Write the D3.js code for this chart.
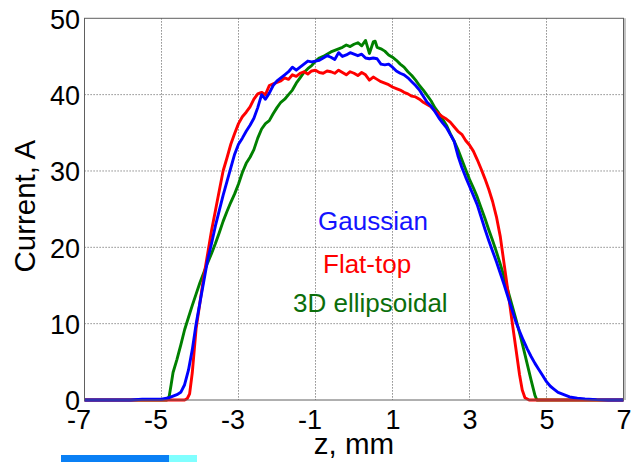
<!DOCTYPE html>
<html>
<head>
<meta charset="utf-8">
<script src="https://cdn.jsdelivr.net/npm/d3@7/dist/d3.min.js"></script>
<style>
html, body { margin: 0; padding: 0; background: #fff; }
svg { display: block; }
text { font-family: "Liberation Sans", Arial, Helvetica, sans-serif; }
</style>
</head>
<body>
<svg id="chart" width="634" height="462"></svg>
<script>
// ---- data ----
const xTicks = [-7, -5, -3, -1, 1, 3, 5, 7];
const yTicks = [0, 10, 20, 30, 40, 50];
const xLabel = "z, mm";
const yLabel = "Current, A";
const seriesNames = ["Gaussian", "Flat-top", "3D ellipsoidal"];

const gaussZ = [-7, -5.8, -5.5, -5.0, -4.8, -4.7, -4.6, -4.5, -4.4, -4.3, -4.2, -4.1, -4.0, -3.9, -3.8, -3.7, -3.6, -3.5, -3.4, -3.3, -3.2, -3.1, -3.0, -2.9, -2.8, -2.7, -2.6, -2.5, -2.4, -2.3, -2.2, -2.1, -2.0, -1.9, -1.8, -1.7, -1.6, -1.5, -1.4, -1.3, -1.2, -1.1, -1.0, -0.9, -0.8, -0.7, -0.6, -0.5, -0.4, -0.3, -0.2, -0.1, 0, 0.1, 0.2, 0.3, 0.4, 0.5, 0.6, 0.7, 0.8, 0.9, 1.0, 1.1, 1.2, 1.3, 1.4, 1.5, 1.6, 1.7, 1.8, 1.9, 2.0, 2.1, 2.2, 2.3, 2.4, 2.5, 2.6, 2.7, 2.8, 2.9, 3.0, 3.1, 3.2, 3.3, 3.4, 3.5, 3.6, 3.7, 3.8, 3.9, 4.0, 4.1, 4.2, 4.3, 4.4, 4.5, 4.6, 4.7, 4.8, 4.9, 5.0, 5.1, 5.2, 5.3, 5.4, 5.6, 5.8, 6.0, 6.3, 6.6, 7];
const gaussI = [0, 0, 0.1, 0.1, 0.3, 0.5, 0.7, 1.0, 2.0, 3.9, 6.6, 10.0, 12.8, 15.6, 18.4, 20.5, 22.8, 24.8, 26.8, 28.6, 30.4, 32.2, 33.5, 34.3, 35.2, 36.0, 36.9, 38.3, 40.0, 39.4, 40.2, 41.2, 41.8, 42.2, 42.6, 43.0, 43.6, 43.2, 43.6, 44.0, 44.4, 44.3, 44.4, 44.5, 44.8, 45.1, 44.9, 44.6, 45.5, 45.0, 45.2, 45.5, 45.3, 45.1, 45.3, 44.8, 44.7, 44.8, 44.7, 44.0, 43.9, 44.0, 43.6, 43.1, 42.8, 42.6, 42.2, 41.7, 41.2, 40.6, 39.8, 39.0, 38.5, 37.8, 37.0, 36.3, 35.7, 34.8, 33.9, 32.0, 30.5, 29.2, 28.0, 26.8, 25.6, 24.0, 22.4, 20.9, 19.5, 18.1, 16.6, 15.1, 13.5, 11.9, 10.3, 9.0, 7.8, 6.7, 5.7, 4.8, 4.0, 3.2, 2.4, 1.8, 1.4, 1.0, 0.8, 0.4, 0.25, 0.15, 0.05, 0, 0];

const flatZ = [-7, -4.4, -4.33, -4.27, -4.2, -4.1, -4.0, -3.9, -3.8, -3.7, -3.6, -3.5, -3.4, -3.3, -3.2, -3.1, -3.0, -2.9, -2.8, -2.7, -2.6, -2.5, -2.4, -2.3, -2.2, -2.1, -2.0, -1.9, -1.8, -1.7, -1.6, -1.5, -1.4, -1.3, -1.2, -1.1, -1.0, -0.9, -0.8, -0.7, -0.6, -0.5, -0.4, -0.3, -0.2, -0.1, 0, 0.1, 0.2, 0.3, 0.4, 0.5, 0.6, 0.7, 0.8, 0.9, 1.0, 1.1, 1.2, 1.3, 1.4, 1.5, 1.6, 1.7, 1.8, 1.9, 2.0, 2.1, 2.2, 2.3, 2.4, 2.5, 2.6, 2.7, 2.8, 2.9, 3.0, 3.1, 3.2, 3.3, 3.4, 3.5, 3.6, 3.7, 3.8, 3.9, 4.0, 4.1, 4.2, 4.3, 4.37, 4.44, 4.55, 7];
const flatI = [0, 0, 0.2, 0.8, 3.6, 9.4, 12.8, 16.2, 19.2, 22.2, 24.8, 27.4, 30.0, 31.7, 33.5, 34.9, 36.2, 37.1, 37.7, 38.4, 39.4, 40.1, 40.3, 40.0, 41.2, 41.4, 41.6, 41.8, 42.2, 42.0, 42.6, 42.4, 42.8, 43.0, 42.7, 43.1, 43.2, 42.9, 42.8, 43.1, 43.0, 42.8, 43.2, 42.9, 42.6, 43.0, 42.8, 42.5, 42.9, 42.6, 41.9, 42.3, 42.0, 41.7, 41.5, 41.3, 41.0, 40.8, 40.6, 40.3, 40.1, 39.8, 39.7, 39.4, 39.0, 38.7, 38.4, 37.9, 37.5, 37.1, 36.8, 36.4, 35.8, 35.2, 34.8, 34.0, 33.4, 32.6, 31.5, 30.3, 29.0, 27.6, 26.0, 24.0, 21.4, 17.8, 14.2, 10.5, 6.9, 3.3, 1.3, 0.3, 0, 0];

const ellZ = [-7, -4.86, -4.8, -4.75, -4.7, -4.6, -4.5, -4.4, -4.3, -4.2, -4.1, -4.0, -3.9, -3.8, -3.7, -3.6, -3.5, -3.4, -3.3, -3.2, -3.1, -3.0, -2.9, -2.8, -2.7, -2.6, -2.5, -2.4, -2.3, -2.2, -2.1, -2.0, -1.9, -1.8, -1.7, -1.6, -1.5, -1.4, -1.3, -1.2, -1.1, -1.0, -0.9, -0.8, -0.7, -0.6, -0.5, -0.4, -0.3, -0.2, -0.1, 0, 0.1, 0.2, 0.3, 0.4, 0.5, 0.55, 0.6, 0.7, 0.8, 0.9, 1.0, 1.1, 1.2, 1.3, 1.4, 1.5, 1.6, 1.7, 1.8, 1.9, 2.0, 2.1, 2.2, 2.3, 2.4, 2.5, 2.6, 2.7, 2.8, 2.9, 3.0, 3.1, 3.2, 3.3, 3.4, 3.5, 3.6, 3.7, 3.8, 3.9, 4.0, 4.1, 4.2, 4.3, 4.4, 4.5, 4.6, 4.7, 4.75, 7];
const ellI = [0, 0, 0.5, 2.0, 3.6, 5.3, 7.2, 9.2, 10.8, 12.4, 13.9, 15.4, 16.7, 18.0, 19.2, 20.5, 21.9, 23.4, 24.7, 25.9, 27.0, 28.3, 29.8, 31.0, 31.8, 32.8, 34.3, 35.5, 36.2, 36.6, 37.5, 38.3, 39.0, 39.4, 40.0, 40.6, 41.5, 42.2, 42.9, 43.4, 43.8, 44.4, 44.8, 45.0, 45.3, 45.6, 45.8, 46.0, 46.2, 46.5, 46.3, 46.6, 46.8, 46.4, 47.1, 45.4, 46.9, 47.0, 46.2, 46.0, 45.7, 45.2, 44.9, 44.5, 44.0, 43.6, 43.0, 42.5, 41.9, 41.2, 40.6, 39.9, 39.2, 38.3, 37.6, 36.8, 36.0, 34.9, 33.9, 32.8, 31.5, 30.2, 28.9, 27.8, 26.6, 25.2, 23.8, 22.3, 20.9, 19.4, 17.8, 16.1, 14.3, 12.5, 10.7, 8.8, 6.8, 4.7, 2.6, 0.6, 0, 0];

// ---- layout ----
const svg = d3.select("#chart");
const L = 84.5, R = 623.5, T = 18.3, B = 400;
const x = d3.scaleLinear().domain([-7, 7]).range([L, R]);
const y = d3.scaleLinear().domain([0, 50]).range([B, T]);

// stray colour bar below the plot
svg.append("rect").attr("x", 61).attr("y", 455).attr("width", 108).attr("height", 7).attr("fill", "#0a80f5");
svg.append("rect").attr("x", 169).attr("y", 455).attr("width", 28).attr("height", 7).attr("fill", "#80ffff");

// grid
const grid = svg.append("g").attr("stroke", "#6e6e6e").attr("stroke-width", 1).attr("stroke-dasharray", "1.2,1.8");
xTicks.filter(t => t > -7 && t < 7).forEach(t => {
  grid.append("line").attr("x1", x(t)).attr("x2", x(t)).attr("y1", T).attr("y2", B);
});
yTicks.filter(t => t > 0 && t < 50).forEach(t => {
  grid.append("line").attr("x1", L).attr("x2", R).attr("y1", y(t)).attr("y2", y(t));
});

// curves
const line = d3.line().x(d => x(d[0])).y(d => y(d[1]));
const series = [
  { z: ellZ, v: ellI, color: "#008000" },
  { z: flatZ, v: flatI, color: "#ff0000" },
  { z: gaussZ, v: gaussI, color: "#0000ff" }
];
series.forEach(s => {
  svg.append("path")
    .datum(s.z.map((z, i) => [z, s.v[i]]))
    .attr("d", line)
    .attr("fill", "none")
    .attr("stroke", s.color)
    .attr("stroke-width", 2.9)
    .attr("stroke-linejoin", "round");
});

// box
svg.append("line").attr("x1", R + 1.5).attr("x2", R + 1.5).attr("y1", T).attr("y2", B).attr("stroke", "#c4c4c4").attr("stroke-width", 2);
svg.append("rect").attr("x", L).attr("y", T).attr("width", R - L).attr("height", B - T)
  .attr("fill", "none").attr("stroke", "#606060").attr("stroke-width", 1);

// axes
const xAxis = svg.append("g").attr("transform", `translate(0,${B})`)
  .call(d3.axisBottom(x).tickValues(xTicks).tickSize(0).tickPadding(10).tickFormat(d3.format("d")));
xAxis.select(".domain").remove();
xAxis.selectAll("text").attr("font-size", 27).attr("fill", "#000")
  .attr("font-family", '"Liberation Sans", Arial, sans-serif')
  .attr("dx", d => d < 0 ? -6 : 0)
  .text(d => d < 0 ? "-" + Math.abs(d) : String(d));

const yAxis = svg.append("g").attr("transform", `translate(${L},0)`)
  .call(d3.axisLeft(y).tickValues(yTicks).tickSize(0).tickPadding(4.5).tickFormat(d3.format("d")));
yAxis.select(".domain").remove();
yAxis.selectAll("text").attr("font-size", 27).attr("fill", "#000")
  .attr("font-family", '"Liberation Sans", Arial, sans-serif')
  .attr("dy", "0.36em");

// axis labels
svg.append("text").attr("x", (L + R) / 2).attr("y", 454).attr("text-anchor", "middle")
  .attr("font-size", 29.5).attr("fill", "#000").text(xLabel);
svg.append("text").attr("transform", `translate(35,${(T + B) / 2 - 3}) rotate(-90)`).attr("text-anchor", "middle")
  .attr("font-size", 29.5).attr("fill", "#000").text(yLabel);

// legend texts
const legendColors = ["#1414ff", "#ff0000", "#0b6e0b"];
const legendX = [318, 323, 293];
const legendY = [230, 273, 312];
seriesNames.forEach((n, i) => {
  svg.append("text").attr("x", legendX[i]).attr("y", legendY[i])
    .attr("font-size", 26).attr("fill", legendColors[i]).text(n);
});
</script>
</body>
</html>
